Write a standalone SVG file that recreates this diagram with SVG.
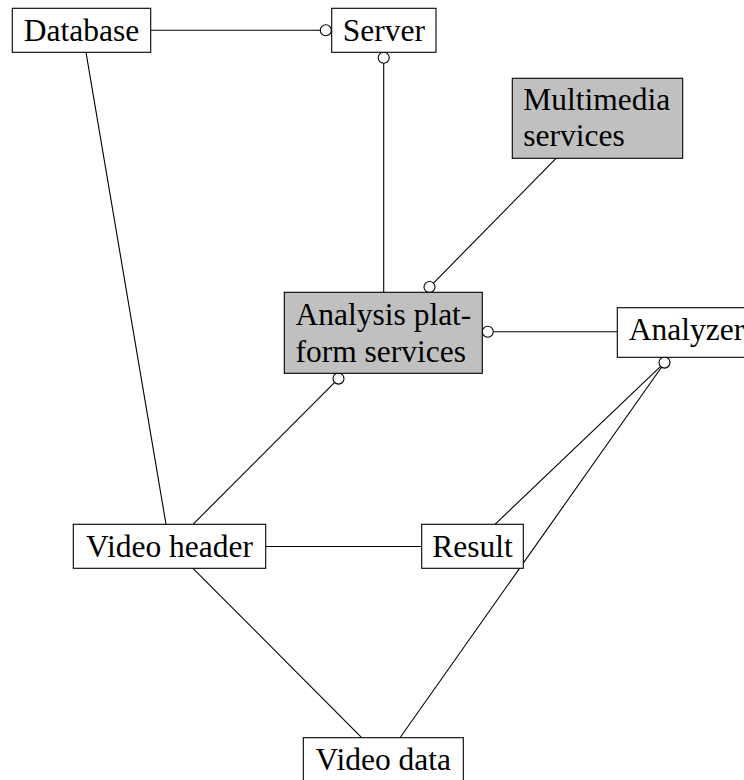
<svg xmlns="http://www.w3.org/2000/svg" width="744" height="780" viewBox="0 0 744 780">
<style>
.box{fill:#ffffff;stroke:#000000;stroke-width:1.1}
.gray{fill:#c0c0c0;stroke:#000000;stroke-width:1.1}
.lbl{font-family:"Liberation Serif","Times New Roman",serif;font-size:31.5px;fill:#000000}
.mid{text-anchor:middle}
.ln{stroke:#000000;stroke-width:1.1;fill:none}
.ball{fill:#ffffff;stroke:#000000;stroke-width:1.1}
</style>
<rect width="744" height="780" fill="#ffffff"/>
<g id="connectors">
<line class="ln" x1="150.7" y1="30.3" x2="320.5" y2="30.3"/>
<circle class="ball" cx="325.8" cy="30.3" r="5.5"/>
<line class="ln" x1="383.7" y1="63.3" x2="383.7" y2="292.3"/>
<circle class="ball" cx="383.7" cy="57.8" r="5.5"/>
<line class="ln" x1="556" y1="158.3" x2="433.3" y2="283.3"/>
<circle class="ball" cx="429.5" cy="287" r="5.5"/>
<line class="ln" x1="493.3" y1="331.8" x2="617.3" y2="331.8"/>
<circle class="ball" cx="487.8" cy="331.8" r="5.5"/>
<line class="ln" x1="334.7" y1="382.4" x2="193" y2="524.3"/>
<circle class="ball" cx="338.5" cy="378.6" r="5.5"/>
<line class="ln" x1="660.6" y1="366.4" x2="495" y2="524.3"/>
<line class="ln" x1="661.5" y1="367.3" x2="400" y2="737.7"/>
<circle class="ball" cx="664.5" cy="362.6" r="5.5"/>
<line class="ln" x1="86" y1="52.3" x2="166" y2="524.3"/>
<line class="ln" x1="265.7" y1="546.5" x2="421.7" y2="546.5"/>
<line class="ln" x1="193" y1="568.3" x2="361.7" y2="737.7"/>
</g>
<g id="database">
<rect class="box" x="12.3" y="8.3" width="138.4" height="44"/>
<text class="lbl mid" x="81.5" y="41">Database</text>
</g>
<g id="server">
<rect class="box" x="331.7" y="8.3" width="104.3" height="44"/>
<text class="lbl mid" x="383.85" y="41">Server</text>
</g>
<g id="multimedia">
<rect class="gray" x="512.3" y="78.3" width="170.4" height="80"/>
<text class="lbl" x="523.3" y="110">Multimedia</text>
<text class="lbl" x="523.3" y="145.5">services</text>
</g>
<g id="analysis">
<rect class="gray" x="284.3" y="292.3" width="198" height="81"/>
<text class="lbl" x="295.5" y="325">Analysis plat-</text>
<text class="lbl" x="295.5" y="361.5">form services</text>
</g>
<g id="analyzer">
<rect class="box" x="617.3" y="307.7" width="138.8" height="49.6"/>
<text class="lbl" x="628.8" y="340.4">Analyzer</text>
</g>
<g id="videoheader">
<rect class="box" x="73.3" y="524.3" width="192.4" height="44"/>
<text class="lbl mid" x="169.5" y="557">Video header</text>
</g>
<g id="result">
<rect class="box" x="421.7" y="524.3" width="101.6" height="44"/>
<text class="lbl mid" x="472.5" y="557">Result</text>
</g>
<g id="videodata">
<rect class="box" x="303.3" y="737.7" width="160" height="44"/>
<text class="lbl mid" x="383.3" y="770.4">Video data</text>
</g>
</svg>
